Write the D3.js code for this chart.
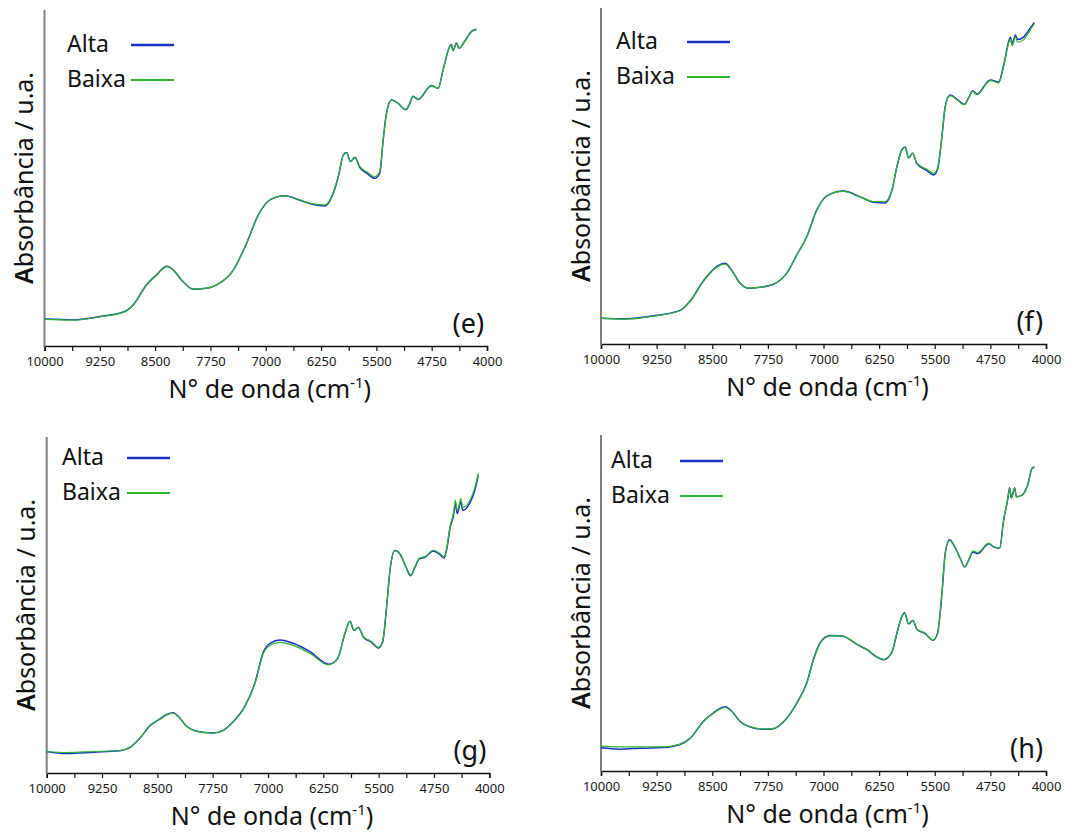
<!DOCTYPE html>
<html lang="pt">
<head>
<meta charset="utf-8">
<title>Espectros NIR</title>
<script src="https://d3js.org/d3.v7.min.js"></script>
<style>
  body { margin: 0; background: #fff; }
  svg text { font-family: "Noto Sans", "Open Sans", sans-serif; fill: #111; }
  .tick text { font-size: 13px; fill: #1a1a1a; }
</style>
</head>
<body>
<script>
// tick values on the wavenumber axis (cm-1)
var majorTicks = [10000, 9250, 8500, 7750, 7000, 6250, 5500, 4750, 4000];
var minorTicks = [9625, 8875, 8125, 7375, 6625, 5875, 5125, 4375];
var seriesNames = ["Alta", "Baixa"];

// (e)
var wnE = [10000, 9607, 9246, 8930, 8795, 8614, 8479, 8343, 8253, 8140, 7982, 7801, 7666, 7440, 7259, 7101, 6943, 6740, 6537, 6356, 6198, 6130, 6017, 5949, 5905, 5850, 5791, 5724, 5634, 5521, 5453, 5408, 5363, 5295, 5205, 5101, 5047, 5002, 4934, 4754, 4663, 4596, 4505, 4483, 4460, 4415, 4379, 4302, 4212, 4144];
var altaE = [0.080, 0.078, 0.088, 0.101, 0.123, 0.183, 0.212, 0.237, 0.226, 0.196, 0.169, 0.172, 0.182, 0.226, 0.306, 0.390, 0.435, 0.447, 0.434, 0.421, 0.417, 0.433, 0.503, 0.568, 0.576, 0.549, 0.561, 0.531, 0.515, 0.499, 0.515, 0.613, 0.693, 0.733, 0.722, 0.703, 0.722, 0.743, 0.734, 0.775, 0.767, 0.821, 0.892, 0.897, 0.879, 0.902, 0.886, 0.907, 0.936, 0.943];
var baixaE = [0.079, 0.077, 0.087, 0.100, 0.122, 0.182, 0.211, 0.236, 0.226, 0.196, 0.169, 0.172, 0.182, 0.226, 0.306, 0.390, 0.435, 0.447, 0.435, 0.423, 0.420, 0.435, 0.504, 0.568, 0.575, 0.549, 0.562, 0.534, 0.519, 0.504, 0.519, 0.613, 0.692, 0.732, 0.722, 0.704, 0.722, 0.742, 0.734, 0.774, 0.767, 0.821, 0.891, 0.896, 0.879, 0.901, 0.886, 0.906, 0.935, 0.942];

// (f)
var wnF = [10000, 9654, 9294, 8934, 8799, 8619, 8462, 8327, 8237, 8124, 8012, 7854, 7674, 7495, 7360, 7225, 7090, 6955, 6730, 6505, 6325, 6168, 6078, 6010, 5943, 5898, 5853, 5798, 5740, 5606, 5516, 5462, 5403, 5358, 5291, 5201, 5102, 5043, 4989, 4931, 4751, 4638, 4571, 4503, 4481, 4454, 4413, 4382, 4301, 4211, 4157];
var altaF = [0.077, 0.075, 0.084, 0.100, 0.128, 0.188, 0.227, 0.240, 0.219, 0.181, 0.166, 0.169, 0.178, 0.211, 0.265, 0.320, 0.399, 0.441, 0.455, 0.438, 0.422, 0.420, 0.457, 0.528, 0.579, 0.586, 0.554, 0.568, 0.536, 0.516, 0.503, 0.520, 0.618, 0.708, 0.741, 0.729, 0.713, 0.733, 0.754, 0.744, 0.786, 0.780, 0.830, 0.900, 0.913, 0.895, 0.920, 0.906, 0.914, 0.941, 0.957];
var baixaF = [0.076, 0.074, 0.083, 0.099, 0.126, 0.186, 0.225, 0.238, 0.218, 0.181, 0.166, 0.169, 0.178, 0.211, 0.265, 0.320, 0.399, 0.441, 0.454, 0.437, 0.424, 0.424, 0.459, 0.528, 0.578, 0.585, 0.553, 0.568, 0.538, 0.520, 0.508, 0.523, 0.618, 0.707, 0.739, 0.727, 0.712, 0.732, 0.752, 0.742, 0.784, 0.777, 0.826, 0.896, 0.908, 0.888, 0.914, 0.898, 0.906, 0.935, 0.953];

// (g)
var wnG = [10000, 9729, 9367, 9006, 8870, 8735, 8599, 8464, 8373, 8283, 8215, 8102, 7967, 7741, 7605, 7470, 7312, 7176, 7063, 6973, 6837, 6657, 6431, 6182, 6115, 6047, 5956, 5889, 5834, 5776, 5708, 5595, 5505, 5446, 5392, 5346, 5279, 5211, 5130, 5066, 5008, 4949, 4872, 4759, 4669, 4615, 4578, 4533, 4479, 4461, 4434, 4384, 4361, 4262, 4194, 4149];
var altaG = [0.064, 0.058, 0.062, 0.066, 0.076, 0.104, 0.141, 0.161, 0.174, 0.179, 0.168, 0.139, 0.124, 0.119, 0.127, 0.153, 0.199, 0.269, 0.360, 0.386, 0.396, 0.386, 0.361, 0.324, 0.328, 0.345, 0.416, 0.452, 0.424, 0.433, 0.405, 0.389, 0.372, 0.390, 0.495, 0.604, 0.662, 0.652, 0.613, 0.587, 0.612, 0.637, 0.642, 0.661, 0.650, 0.640, 0.665, 0.728, 0.775, 0.805, 0.772, 0.808, 0.781, 0.804, 0.843, 0.886];
var baixaG = [0.064, 0.061, 0.064, 0.067, 0.077, 0.104, 0.141, 0.160, 0.173, 0.178, 0.168, 0.139, 0.124, 0.119, 0.127, 0.153, 0.198, 0.267, 0.356, 0.380, 0.389, 0.380, 0.356, 0.322, 0.327, 0.345, 0.416, 0.452, 0.424, 0.434, 0.406, 0.391, 0.374, 0.391, 0.495, 0.604, 0.663, 0.653, 0.614, 0.589, 0.614, 0.639, 0.644, 0.663, 0.653, 0.644, 0.668, 0.733, 0.782, 0.812, 0.780, 0.817, 0.790, 0.812, 0.851, 0.893];

// (h)
var wnH = [10000, 9744, 9474, 9159, 8934, 8799, 8619, 8484, 8327, 8237, 8124, 7989, 7809, 7674, 7540, 7360, 7225, 7135, 7045, 6910, 6752, 6550, 6415, 6280, 6190, 6078, 6010, 5943, 5907, 5853, 5794, 5740, 5628, 5525, 5462, 5403, 5358, 5300, 5223, 5147, 5098, 5043, 4984, 4922, 4773, 4706, 4625, 4571, 4517, 4490, 4467, 4422, 4400, 4323, 4247, 4189, 4157];
var altaH = [0.069, 0.065, 0.068, 0.070, 0.079, 0.097, 0.148, 0.173, 0.191, 0.178, 0.147, 0.131, 0.124, 0.126, 0.146, 0.202, 0.263, 0.333, 0.382, 0.403, 0.402, 0.377, 0.361, 0.339, 0.331, 0.354, 0.410, 0.460, 0.471, 0.438, 0.448, 0.421, 0.409, 0.389, 0.410, 0.529, 0.649, 0.688, 0.664, 0.628, 0.607, 0.627, 0.652, 0.647, 0.676, 0.667, 0.663, 0.747, 0.808, 0.843, 0.813, 0.842, 0.816, 0.821, 0.851, 0.900, 0.904];
var baixaH = [0.074, 0.072, 0.072, 0.072, 0.080, 0.097, 0.147, 0.172, 0.189, 0.177, 0.147, 0.132, 0.125, 0.127, 0.147, 0.201, 0.261, 0.330, 0.380, 0.402, 0.402, 0.377, 0.362, 0.340, 0.332, 0.355, 0.410, 0.459, 0.469, 0.438, 0.449, 0.422, 0.410, 0.390, 0.410, 0.529, 0.648, 0.686, 0.663, 0.628, 0.608, 0.628, 0.655, 0.650, 0.678, 0.668, 0.663, 0.747, 0.807, 0.841, 0.812, 0.841, 0.816, 0.821, 0.851, 0.901, 0.906];

var colors = { Alta: "#1c2ec8", Baixa: "#2fb52f" };

// where each panel sits on the page
var panels = [
  { tag: "(e)", x0: 44.5, x1: 487, top: 10, bot: 346, lx: 67, ly: 52, ls: 131, wn: wnE, alta: altaE, baixa: baixaE },
  { tag: "(f)", x0: 601, x1: 1046, top: 8, bot: 344, lx: 616, ly: 49, ls: 687, wn: wnF, alta: altaF, baixa: baixaF },
  { tag: "(g)", x0: 46.7, x1: 489.3, top: 437, bot: 773, lx: 62, ly: 465, ls: 127, wn: wnG, alta: altaG, baixa: baixaG },
  { tag: "(h)", x0: 601, x1: 1046, top: 435, bot: 771, lx: 611, ly: 468, ls: 680, wn: wnH, alta: altaH, baixa: baixaH }
];

var svg = d3.select("body").append("svg")
    .attr("width", 1078)
    .attr("height", 832);

panels.forEach(function(p) {
  var g = svg.append("g");

  var x = d3.scaleLinear().domain([10000, 4000]).range([p.x0, p.x1]);
  var y = d3.scaleLinear().domain([0, 1]).range([p.bot, p.top]);

  var xAxis = d3.axisBottom(x)
      .tickValues(majorTicks.concat(minorTicks))
      .tickSize(5)
      .tickPadding(6)
      .tickFormat(function(d) { return majorTicks.indexOf(d) >= 0 ? d : ""; });

  var ax = g.append("g")
      .attr("transform", "translate(0," + p.bot + ")")
      .call(xAxis);
  ax.select(".domain").attr("stroke", "#111").attr("stroke-width", 1.6);
  ax.selectAll(".tick line").attr("stroke", "#111").attr("stroke-width", 1.2);

  // y axis: bare grey line, no ticks
  g.append("line")
      .attr("x1", p.x0).attr("x2", p.x0)
      .attr("y1", p.top).attr("y2", p.bot + 1)
      .attr("stroke", "#808080")
      .attr("stroke-width", 2);

  var line = d3.line()
      .x(function(d) { return x(d[0]); })
      .y(function(d) { return y(d[1]); })
      .curve(d3.curveMonotoneX);

  g.append("path")
      .datum(d3.zip(p.wn, p.alta))
      .attr("fill", "none")
      .attr("stroke", colors.Alta)
      .attr("stroke-width", 1.5)
      .attr("d", line);

  g.append("path")
      .datum(d3.zip(p.wn, p.baixa))
      .attr("fill", "none")
      .attr("stroke", colors.Baixa)
      .attr("stroke-width", 1.2)
      .attr("d", line);

  // axis titles
  var xt = g.append("text")
      .attr("x", (p.x0 + p.x1) / 2 + 4)
      .attr("y", p.bot + 52)
      .attr("text-anchor", "middle")
      .style("font-size", "25px");
  xt.append("tspan").text("N° de onda (cm");
  xt.append("tspan").attr("dy", -10).style("font-size", "15px").text("-1");
  xt.append("tspan").attr("dy", 10).text(")");

  var yt = g.append("text")
      .attr("transform", "translate(" + (p.x0 - 11.5) + "," + ((p.top + p.bot) / 2) + ") rotate(-90)")
      .attr("text-anchor", "middle")
      .style("font-size", "25px");
  yt.append("tspan").style("font-weight", "600").text("A");
  yt.append("tspan").text("bsorbância / u.a.");

  // legend
  seriesNames.forEach(function(name, i) {
    g.append("text")
        .attr("x", p.lx)
        .attr("y", p.ly + i * 35)
        .style("font-size", "23px")
        .text(name);
    g.append("line")
        .attr("x1", p.ls).attr("x2", p.ls + 43)
        .attr("y1", p.ly - 7 + i * 35).attr("y2", p.ly - 7 + i * 35)
        .attr("stroke", colors[name])
        .attr("stroke-width", i == 0 ? 2.6 : 2.2);
  });

  g.append("text")
      .attr("x", p.x1 - 3)
      .attr("y", p.bot - 13)
      .attr("text-anchor", "end")
      .style("font-size", "27px")
      .text(p.tag);
});
</script>
</body>
</html>
